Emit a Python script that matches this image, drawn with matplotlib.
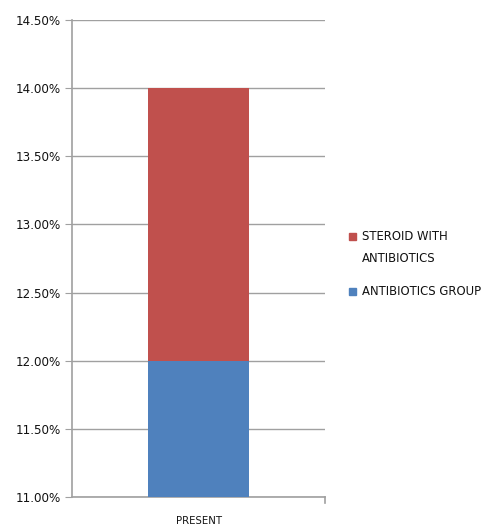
import matplotlib
matplotlib.use("Agg")
import matplotlib.pyplot as plt
from matplotlib.ticker import FuncFormatter, MultipleLocator
from matplotlib.patches import Rectangle

categories = ["PRESENT"]
antibiotics_group = [0.12]
steroid_with_antibiotics = [0.02]
series_labels = ["STEROID WITH\nANTIBIOTICS", "ANTIBIOTICS GROUP"]

red = "#C0504D"
blue = "#4F81BD"
grid_col = "#A0A0A0"

fig = plt.figure(figsize=(4.83, 5.27), dpi=100)
ax = fig.add_axes([0.149, 0.057, 0.524, 0.905])

x = list(range(len(categories)))
ax.bar(x, antibiotics_group, width=0.4, color=blue, zorder=3)
ax.bar(x, steroid_with_antibiotics, bottom=antibiotics_group, width=0.4,
       color=red, zorder=3)

ax.set_xlim(-0.5, 0.5)
ax.set_ylim(0.11, 0.145)
ax.yaxis.set_major_locator(MultipleLocator(0.005))
ax.yaxis.set_major_formatter(FuncFormatter(lambda v, p: f"{v*100:.2f}%"))
ax.set_xticks(x)
ax.set_xticklabels(categories)

ax.grid(axis="y", color=grid_col, linewidth=1.0, zorder=0)
for s in ["top", "right"]:
    ax.spines[s].set_visible(False)
for s in ["left", "bottom"]:
    ax.spines[s].set_color(grid_col)
    ax.spines[s].set_linewidth(1.2)
ax.tick_params(axis="y", length=5, color=grid_col, labelsize=8.6, pad=3,
               labelcolor="#111111")
ax.tick_params(axis="x", length=0, labelsize=7.3, pad=14, labelcolor="#111111")
for lbl in ax.get_yticklabels() + ax.get_xticklabels():
    lbl.set_fontfamily("DejaVu Sans")
# tick mark at the right end of the category axis
ax.plot([0.5, 0.5], [0, -0.012], transform=ax.get_xaxis_transform(),
        color=grid_col, lw=1.2, clip_on=False)

# legend drawn beside the plot
W, H = 483, 527
def px(xp, yp):
    return xp / W, 1 - yp / H
for (yp, col, text) in [(236, red, series_labels[0]), (291, blue, series_labels[1])]:
    x0, y0 = px(349, yp + 4)
    fig.patches.append(Rectangle((x0, y0), 7 / W, 7 / H, transform=fig.transFigure,
                                 color=col))
    tx, ty = px(362, yp - 6)
    fig.text(tx, ty, text, fontsize=8.4, va="top", ha="left",
             linespacing=1.85, color="#111111")

fig.savefig("out.png", dpi=100)
